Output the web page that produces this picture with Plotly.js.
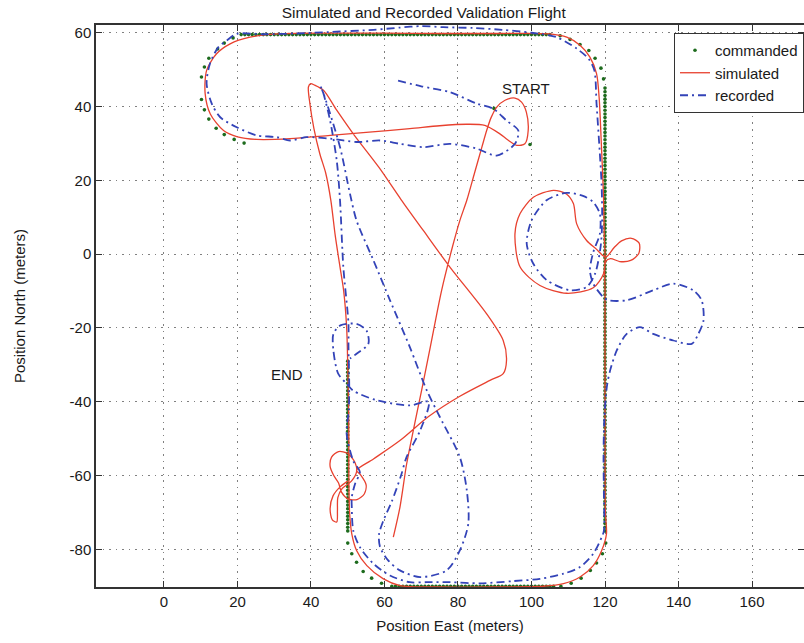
<!DOCTYPE html>
<html><head><meta charset="utf-8">
<script src="https://cdn.plot.ly/plotly-3.0.1.min.js"></script>
<style>html,body{margin:0;padding:0;background:#fff}#chart{width:804px;height:643px}</style>
</head><body><div id="chart"></div>
<script>
// ---- commanded path (sparse corner points + dense straight legs) ----
const cmdStartX = [99.6, 89.8];
const cmdStartY = [29.7, 39.5];
const cmdLoopX = [21.8,19.1,16.4,14.2,12.2,11.0,10.2,10.2,11.0,12.2,14.6,16.4,18.8];
const cmdLoopY = [30.1,31.1,32.4,34.1,36.6,39.1,41.9,48.0,50.7,53.1,55.6,57.2,58.6];
const cmdTopX = [21,22,23,24,25,26,27,28,29,30,31,32,33,34,35,36,37,38,39,40,41,42,43,44,45,46,47,48,49,50,51,52,53,54,55,56,57,58,59,60,61,62,63,64,65,66,67,68,69,70,71,72,73,74,75,76,77,78,79,80,81,82,83,84,85,86,87,88,89,90,91,92,93,94,95,96,97,98,99,100,101,102,103,104,105];
const cmdTopY = [59.5,59.5,59.5,59.5,59.5,59.5,59.5,59.5,59.5,59.5,59.5,59.5,59.5,59.5,59.5,59.5,59.5,
59.5,59.5,59.5,59.5,59.5,59.5,59.5,59.5,59.5,59.5,59.5,59.5,59.5,59.5,59.5,59.5,59.5,
59.5,59.5,59.5,59.5,59.5,59.5,59.5,59.5,59.5,59.5,59.5,59.5,59.5,59.5,59.5,59.5,59.5,
59.5,59.5,59.5,59.5,59.5,59.5,59.5,59.5,59.5,59.5,59.5,59.5,59.5,59.5,59.5,59.5,59.5,
59.5,59.5,59.5,59.5,59.5,59.5,59.5,59.5,59.5,59.5,59.5,59.5,59.5,59.5,59.5,59.5,59.5];
const cmdCorner1X = [107.8,110.5,113.2,115.6,117.3,118.9,119.6];
const cmdCorner1Y = [59.2,58.2,56.8,55.2,53.1,50.4,47.5];
const cmdRightX = [120,120,120,120,120,120,120,120,120,120,120,120,120,120,120,120,120,120,120,120,
120,120,120,120,120,120,120,120,120,120,120,120,120,120,120,120,120,120,120,120,
120,120,120,120,120,120,120,120,120,120,120,120,120,120,120,120,120,120,120,120,
120,120,120,120,120,120,120,120,120,120,120,120,120,120,120,120,120,120,120,120,
120,120,120,120,120,120,120,120,120,120,120,120,120,120,120,120,120,120,120,120,
120,120,120,120,120,120,120,120,120,120,120,120,120,120,120,120,120,120,120,120,120];
const cmdRightY = [45,44,43,42,41,40,39,38,37,36,35,34,33,32,31,30,29,28,27,26,25,24,23,22,21,20,19,18,17,16,15,14,13,12,11,10,9,8,7,6,5,4,3,2,1,0,-1,-2,-3,-4,-5,-6,-7,-8,-9,-10,-11,-12,-13,-14,-15,-16,-17,-18,-19,-20,-21,-22,-23,-24,-25,-26,-27,-28,-29,-30,-31,-32,-33,-34,-35,-36,-37,-38,-39,-40,-41,-42,-43,-44,-45,-46,-47,-48,-49,-50,-51,-52,-53,-54,-55,-56,-57,-58,-59,-60,-61,-62,-63,-64,-65,-66,-67,-68,-69,-70,-71,-72,-73,-74,-75];
const cmdCorner2X = [120.2,119.3,117.7,116.0,113.5,110.8,108.0];
const cmdCorner2Y = [-78.3,-81.2,-83.7,-85.7,-87.8,-89.2,-90.0];
const cmdBottomX = [106,105,104,103,102,101,100,99,98,97,96,95,94,93,92,91,90,89,88,87,86,85,84,83,82,81,80,79,78,77,76,75,74,73,72,71,70,69,68,67,66,65,64,63,62];
const cmdBottomY = [-90,-90,-90,-90,-90,-90,-90,-90,-90,-90,-90,-90,-90,-90,-90,-90,-90,-90,-90,-90,-90,-90,-90,
-90,-90,-90,-90,-90,-90,-90,-90,-90,-90,-90,-90,-90,-90,-90,-90,-90,-90,-90,-90,-90,-90];
const cmdCorner3X = [59.2,56.5,54.2,52.4,51.1,50.0];
const cmdCorner3Y = [-89.2,-87.8,-86.0,-83.5,-81.2,-78.3];
const cmdLeftX = [50,50,50,50,50,50,50,50,50,50,50,50,50,50,50,50,50,50,50,50,50,50,50,50,
50,50,50,50,50,50,50,50,50,50,50,50,50,50,50,50,50,50,50,50,50,50,50];
const cmdLeftY = [-75,-74,-73,-72,-71,-70,-69,-68,-67,-66,-65,-64,-63,-62,-61,-60,-59,-58,-57,-56,-55,-54,-53,-52,-51,-50,-49,-48,-47,-46,-45,-44,-43,-42,-41,-40,-39,-38,-37,-36,-35,-34,-33,-32,-31,-30,-29];

// ---- simulated path ----
const simX = [62.4,64.2,66.0,68.0,70.1,72.5,75.5,78.5,80.5,82.4,84.5,86.5,87.8,89.0,90.5,92.8,95.5,97.3,98.6,99.1,98.2,96.0,93.5,91.4,87.3,82.4,75.0,66.9,55.0,45.2,34.3,25.2,20.0,16.2,12.6,11.2,11.6,14.3,18.0,23.4,30.7,45.0,60.0,75.0,90.0,105.0,109.6,113.2,115.9,117.7,118.4,119.0,119.6,119.8,120.0,119.6,116.8,109.6,102.3,96.9,95.5,96.9,100.5,106.0,109.5,111.4,112.3,115.0,117.5,120.2,122.5,124.5,127.2,129.3,129.2,127.0,124.0,121.5,120.2,120.0,120.0,120.0,120.1,120.4,119.1,116.8,113.2,108.7,103.2,90.0,75.0,64.2,59.7,55.2,52.4,51.1,50.5,50.3,50.3,50.2,50.0,49.7,48.9,47.9,46.6,45.4,44.0,42.4,40.8,39.7,39.3,39.9,41.0,43.4,47.0,51.5,58.5,64.5,70.5,77.8,87.8,92.3,93.2,92.3,88.7,80.5,72.0,64.2,57.0,52.4,53.5,55.0,54.5,52.5,50.0,48.3,47.5,46.2,45.2,45.6,47.5,50.0,52.0,52.4,51.0,48.5,47.3,47.2,47.0,45.8,45.2,46.0,48.0,50.0];
const simY = [-76.7,-68.6,-57.0,-47.0,-36.9,-25.0,-10.0,2.0,9.1,14.6,22.0,29.0,33.5,37.0,39.8,41.7,42.3,41.2,38.5,33.5,29.9,29.5,31.0,32.6,34.9,35.2,34.8,34.0,33.0,32.2,31.3,31.1,31.8,33.5,38.0,43.5,49.8,54.3,57.0,58.8,59.7,59.9,59.9,59.8,59.8,59.7,58.8,56.6,53.4,48.9,42.5,30.0,15.4,5.0,-0.8,-5.3,-9.1,-10.6,-8.5,-3.5,5.5,11.0,15.4,17.3,16.3,13.7,8.2,3.7,1.5,-0.8,1.8,3.6,4.3,3.0,0.2,-1.7,-2.0,-1.2,-2.0,-10.0,-30.0,-50.0,-70.0,-75.8,-80.3,-84.4,-87.5,-89.3,-90.0,-90.2,-90.2,-89.8,-88.0,-84.4,-80.3,-75.8,-70.0,-60.0,-50.0,-40.0,-30.0,-19.8,-10.0,-3.5,5.0,14.6,22.0,27.2,34.0,40.8,45.3,46.2,45.8,44.4,39.0,32.6,23.5,14.8,6.5,-3.5,-16.2,-23.4,-28.8,-32.4,-34.2,-38.5,-44.0,-50.5,-55.5,-58.6,-59.8,-62.5,-65.0,-66.5,-66.3,-64.5,-62.0,-60.0,-57.5,-55.0,-53.5,-54.0,-56.5,-59.0,-61.5,-63.5,-66.0,-69.5,-72.6,-72.0,-69.0,-65.5,-63.0,-61.5];

// ---- recorded path ----
const recX = [63.7,70.0,77.8,85.1,89.6,93.2,96.4,95.5,90.5,85.1,77.8,70.6,64.2,58.8,52.4,45.2,38.8,34.3,30.7,25.2,19.8,15.3,13.0,11.6,12.5,14.8,17.1,19.8,27.0,36.0,45.0,57.0,64.2,70.0,76.0,84.0,92.0,100.0,106.8,112.3,115.5,117.1,117.7,118.6,119.1,119.2,118.8,117.3,115.0,110.5,104.1,100.5,98.7,100.0,104.1,109.5,114.0,116.8,118.6,118.6,116.8,115.9,116.8,119.6,120.9,125.9,133.1,138.6,144.0,146.3,146.8,145.4,143.6,138.6,133.1,129.5,125.9,123.2,121.4,120.5,119.8,119.6,119.7,119.7,119.1,116.8,113.2,108.7,102.3,95.0,86.0,77.8,71.5,66.9,61.5,57.0,53.3,51.5,51.1,51.1,52.0,53.3,51.5,49.7,50.3,50.4,50.2,50.2,48.8,47.9,47.0,45.2,43.3,42.6,43.6,47.9,50.6,52.4,57.0,61.5,66.9,71.5,75.1,80.5,82.4,82.8,80.5,76.9,69.7,64.2,61.0,58.8,58.5,59.7,62.0,64.5,66.0,69.7,72.0,67.0,57.9,51.5,49.7,47.4,46.1,46.1,48.0,52.4,55.1,55.6,52.4,50.6];
const recY = [47.0,45.5,43.9,40.8,39.4,36.2,33.5,29.9,26.7,28.6,29.9,29.0,29.9,30.8,30.4,31.3,31.7,30.8,31.7,32.2,34.4,37.1,40.8,46.2,51.6,56.1,57.9,59.7,59.6,59.8,60.2,60.8,61.4,61.8,61.5,61.3,60.8,60.0,58.8,55.7,53.0,49.8,40.8,27.2,18.2,8.0,2.0,-5.3,-8.9,-9.8,-7.0,-2.6,2.8,9.1,14.6,16.6,15.8,14.1,10.9,5.5,0.5,-4.4,-8.0,-11.7,-12.5,-12.5,-9.8,-8.0,-9.8,-12.5,-18.0,-21.6,-24.3,-23.4,-21.6,-19.8,-21.6,-26.1,-31.5,-36.0,-45.0,-55.0,-65.0,-75.0,-76.7,-81.2,-84.8,-86.6,-88.0,-88.6,-89.2,-88.9,-88.9,-88.9,-87.1,-83.9,-79.4,-74.9,-68.6,-65.9,-62.2,-59.1,-56.0,-48.7,-42.0,-35.0,-25.0,-18.9,-3.5,14.6,25.4,36.2,43.8,45.5,43.0,29.0,16.4,9.1,-1.7,-12.5,-25.2,-36.9,-44.2,-55.0,-64.0,-73.1,-80.3,-85.7,-87.5,-85.7,-83.0,-79.4,-76.0,-72.2,-67.0,-60.0,-55.0,-47.8,-40.0,-41.0,-39.6,-37.0,-35.1,-32.4,-26.1,-21.6,-19.3,-18.9,-20.7,-24.3,-27.0,-28.3];

const xTicks = [0,20,40,60,80,100,120,140,160];
const xTickText = ['0','20','40','60','80','100','120','140','160'];
const yTicks = [-80,-60,-40,-20,0,20,40,60];
const yTickText = ['-80','-60','-40','-20','0','20','40','60'];

const cmdX = [].concat(cmdStartX, cmdLoopX, cmdTopX, cmdCorner1X, cmdRightX, cmdCorner2X, cmdBottomX, cmdCorner3X, cmdLeftX);
const cmdY = [].concat(cmdStartY, cmdLoopY, cmdTopY, cmdCorner1Y, cmdRightY, cmdCorner2Y, cmdBottomY, cmdCorner3Y, cmdLeftY);

const FONT = '"Liberation Sans", Arial, Helvetica, sans-serif';

const traces = [
  {x: cmdX, y: cmdY, mode: 'markers', name: 'commanded', type: 'scatter',
   marker: {color: '#1d6b1d', size: 3.6}},
  {x: simX, y: simY, mode: 'lines', name: 'simulated', type: 'scatter',
   line: {color: '#e8412f', width: 1.3, shape: 'spline', smoothing: 0.8}},
  {x: recX, y: recY, mode: 'lines', name: 'recorded', type: 'scatter',
   line: {color: '#3343b8', width: 1.8, dash: '8px,4px,2px,4px', shape: 'spline', smoothing: 0.8}}
];

const axisCommon = {
  ticks: 'inside', ticklen: 6, tickwidth: 1.2, tickcolor: '#333',
  showline: true, linecolor: '#333', linewidth: 1.5, mirror: 'ticks',
  showgrid: true, gridcolor: '#808080', gridwidth: 1, griddash: '1.5px,5px',
  zeroline: false, automargin: false, tickmode: 'array',
  tickfont: {family: FONT, size: 15, color: '#1a1a1a'}
};

const layout = {
  width: 804, height: 643,
  margin: {l: 96, r: 0, t: 25, b: 56},
  paper_bgcolor: '#ffffff', plot_bgcolor: '#ffffff',
  font: {family: FONT, size: 15, color: '#1a1a1a'},
  showlegend: true,
  title: {text: 'Simulated and Recorded Validation Flight', xref: 'container', x: 0.527,
          xanchor: 'center', yref: 'container', y: 0.981, yanchor: 'middle',
          font: {family: FONT, size: 15.5, color: '#1a1a1a'}},
  xaxis: Object.assign({}, axisCommon, {
    range: [-18.5, 174.15], tickvals: xTicks, ticktext: xTickText,
    title: {text: 'Position East (meters)', standoff: 12, font: {family: FONT, size: 15, color: '#1a1a1a'}}
  }),
  yaxis: Object.assign({}, axisCommon, {
    range: [-90.2, 62.1], tickvals: yTicks, ticktext: yTickText,
    title: {text: 'Position North (meters)', standoff: 40, font: {family: FONT, size: 15, color: '#1a1a1a'}}
  }),
  legend: {x: 1, xanchor: 'right', y: 0.9858, yanchor: 'top', bgcolor: '#ffffff',
           bordercolor: '#333', borderwidth: 1, font: {family: FONT, size: 15, color: '#1a1a1a'},
           tracegroupgap: 0},
  annotations: [
    {x: 98.5, y: 45.0, xref: 'x', yref: 'y', text: 'START', showarrow: false,
     font: {family: FONT, size: 15, color: '#1a1a1a'}},
    {x: 33.6, y: -32.6, xref: 'x', yref: 'y', text: 'END', showarrow: false,
     font: {family: FONT, size: 15, color: '#1a1a1a'}}
  ]
};

Plotly.newPlot('chart', traces, layout, {displayModeBar: false, responsive: false});
</script>
</body></html>
